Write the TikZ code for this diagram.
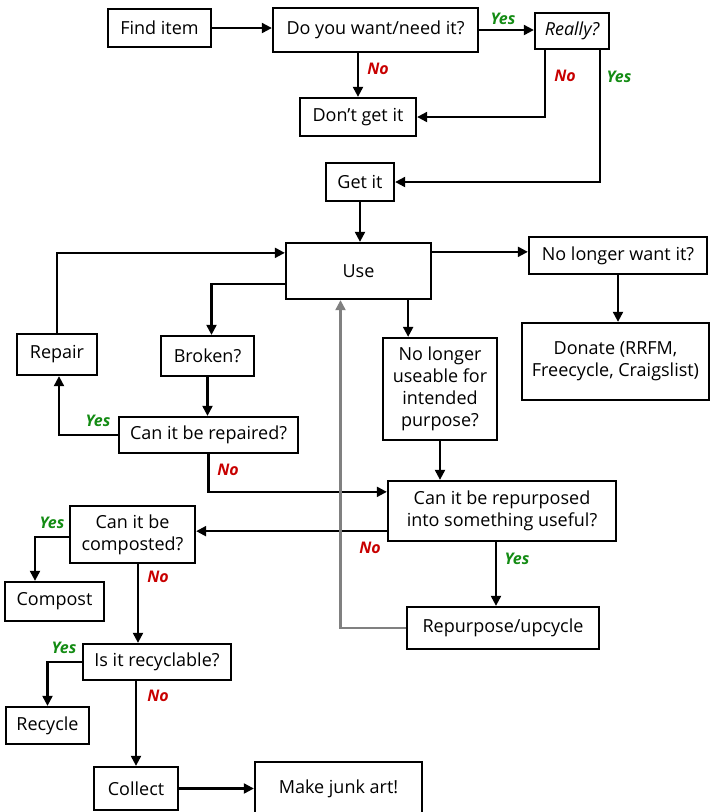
\documentclass[tikz,border=0pt]{standalone}
\usepackage{fontspec}
\setmainfont{Open Sans}
\usetikzlibrary{arrows.meta,calc}
\definecolor{yesgreen}{RGB}{20,140,20}
\definecolor{nored}{RGB}{200,0,0}
\definecolor{backgray}{RGB}{128,128,128}
\begin{document}
\begin{tikzpicture}[x=1pt,y=-1pt,
  box/.style={draw=black,line width=2.3pt,fill=white,inner sep=0pt,align=center,font=\fontsize{18}{22}\selectfont},
  conn/.style={line width=2.1pt,-{Triangle[length=10pt,width=10pt]}},
  grayconn/.style={conn,draw=backgray,-{Triangle[length=10pt,width=10pt,fill=backgray]}},
  yeslab/.style={text=yesgreen,font=\fontsize{16}{19}\selectfont\bfseries\itshape,inner sep=0pt},
  nolab/.style={text=nored,font=\fontsize{16}{19}\selectfont\bfseries\itshape,inner sep=0pt}]
\fill[white] (0,0) rectangle (710,812);
\useasboundingbox (0,0) rectangle (710,812);
% nodes
\node[box,minimum width=103pt,minimum height=38pt] (find) at (159.5,28) {Find item};
\node[box,minimum width=205pt,minimum height=44pt] (want) at (375.5,30) {Do you want/need it?};
\node[box,minimum width=74pt,minimum height=36pt] (really) at (572,31) {\itshape Really?};
\node[box,minimum width=116pt,minimum height=38pt] (dont) at (358,117) {Don\symbol{39}t get it};
\node[box,minimum width=68pt,minimum height=38pt] (getit) at (360,182) {Get it};
\node[box,minimum width=145pt,minimum height=56pt] (use) at (358.5,271) {Use};
\node[box,minimum width=178pt,minimum height=37pt] (nowant) at (618,255.5) {No longer want it?};
\node[box,minimum width=187pt,minimum height=77pt] (donate) at (615.5,361.5) {Donate (RRFM,\\Freecycle, Craigslist)};
\node[box,minimum width=114pt,minimum height=102pt] (useable) at (440,389) {No longer\\useable for\\intended\\purpose?};
\node[box,minimum width=80pt,minimum height=41pt] (repair) at (57,354.5) {Repair};
\node[box,minimum width=93pt,minimum height=40pt] (broken) at (207.5,356) {Broken?};
\node[box,minimum width=179pt,minimum height=36pt] (canrep) at (208.5,435) {Can it be repaired?};
\node[box,minimum width=228pt,minimum height=60pt] (repurp) at (502,511) {Can it be repurposed\\into something useful?};
\node[box,minimum width=125pt,minimum height=57pt] (compq) at (132.5,534.5) {Can it be\\composted?};
\node[box,minimum width=99pt,minimum height=39pt] (compost) at (54.5,601.5) {Compost};
\node[box,minimum width=192pt,minimum height=42pt] (upcycle) at (503,628) {Repurpose/upcycle};
\node[box,minimum width=148pt,minimum height=36pt] (recq) at (157,662) {Is it recyclable?};
\node[box,minimum width=83pt,minimum height=37pt] (recycle) at (47.5,725.5) {Recycle};
\node[box,minimum width=84pt,minimum height=43pt] (collect) at (136,788.5) {Collect};
\node[box,minimum width=167pt,minimum height=54pt,text height=13pt,text depth=4pt] (junk) at (338.5,789) {Make junk art!};
% connectors
\draw[conn] (find.east) -- (find.east -| want.west);
\draw[conn] (want.east) -- (want.east -| really.west);
\draw[conn] (dont.north |- want.south) -- (dont.north);
\draw[conn] ([xshift=11pt]really.south west) |- (dont.east);
\draw[conn] ([xshift=-10pt]really.south east) |- (getit.east);
\draw[conn] (getit.south) -- (getit.south |- use.north);
\draw[conn] ([yshift=-10pt]use.north east) -- ([yshift=-10pt]use.north east -| nowant.west);
\draw[conn] (nowant.south) -- (nowant.south |- donate.north);
\draw[conn] ([xshift=-24pt]use.south east) -- ([xshift=-24pt]use.south east |- useable.north);
\draw[conn] ([yshift=16pt]use.south west) -| ([xshift=4pt]broken.north);
\draw[conn] (broken.south) -- (broken.south |- canrep.north);
\draw[conn] (canrep.west) -| ([xshift=2pt]repair.south);
\draw[conn] (repair.north) |- ([yshift=-11pt]use.north west);
\draw[conn] (canrep.south) |- ([yshift=-12pt]repurp.north west);
\draw[conn] (useable.south) -- (useable.south |- repurp.north);
\draw[conn] ([yshift=11pt]repurp.south west) -- ([yshift=11pt]repurp.south west -| compq.east);
\draw[conn] ([xshift=-6pt]repurp.south) -- ([xshift=-6pt]repurp.south |- upcycle.north);
\draw[grayconn] (upcycle.west) -| ([xshift=-18pt]use.south);
\draw[conn] ([yshift=-2.5pt]compq.west) -| ([xshift=-19.5pt]compost.north);
\draw[conn] ([xshift=5.5pt]compq.south) -- ([xshift=5.5pt]compq.south |- recq.north);
\draw[conn] (recq.west) -| (recycle.north);
\draw[conn] (recq.south -| collect.north) -- (collect.north);
\draw[conn] (collect.east) -- (collect.east -| junk.west);
% labels
\node[yeslab] (l1) at (503,19) {Yes};
\node[nolab] (l2) at (378,69) {No};
\node[nolab] (l3) at (565,76) {No};
\node[yeslab] (l4) at (619,77) {Yes};
\node[yeslab] (l5) at (98,421) {Yes};
\node[nolab] (l6) at (228,470) {No};
\node[nolab] (l7) at (370,548) {No};
\node[yeslab] (l8) at (517,559) {Yes};
\node[yeslab] (l9) at (52,523) {Yes};
\node[nolab] (l10) at (158,577) {No};
\node[yeslab] (l11) at (64,648) {Yes};
\node[nolab] (l12) at (158,696) {No};
\end{tikzpicture}
\end{document}
